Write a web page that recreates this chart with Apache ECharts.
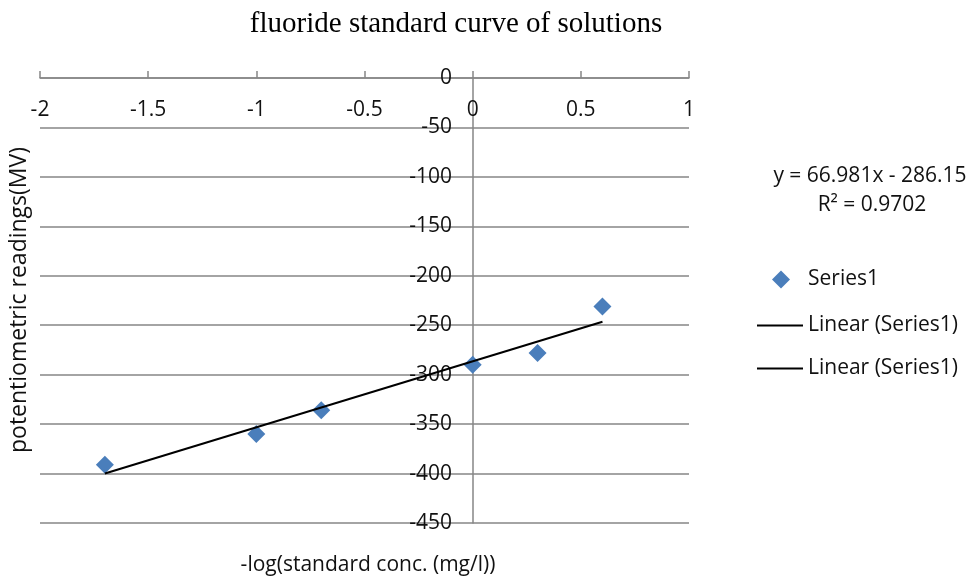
<!DOCTYPE html>
<html>
<head>
<meta charset="utf-8">
<script src="https://cdn.jsdelivr.net/npm/echarts@6/dist/echarts.min.js"></script>
<style>html,body{margin:0;padding:0;background:#fff}#c{width:973px;height:580px}</style>
</head>
<body>
<div id="c"></div>
<script>
// Data
var xValues = [-1.7, -1.0, -0.7, 0.0, 0.3, 0.6];
var yValues = [-391, -360, -336, -290, -278, -231];
// Linear trend line end points (as drawn)
var trendX = [-1.7, 0.6];
var trendY = [-400, -246.5];
var titleText = 'fluoride standard curve of solutions';
var xName = '-log(standard conc. (mg/l))';
var yName = 'potentiometric readings(MV)';
var eqLine1 = 'y = 66.981x - 286.15';
var eqLine2 = 'R\u00B2 = 0.9702';

var pts = xValues.map(function (x, i) { return [x, yValues[i]]; });
var trend = trendX.map(function (x, i) { return [x, trendY[i]]; });

var FONT = '"Open Sans", sans-serif';
var FS = 21;
var GRAY = '#868686';
var chart = echarts.init(document.getElementById('c'));
chart.setOption({
  animation: false,
  backgroundColor: '#fff',
  title: {
    text: titleText, left: 451, top: 5, textAlign: 'center',
    textStyle: { fontFamily: '"Liberation Serif", serif', fontSize: 29, fontWeight: 'normal', color: '#000' }
  },
  grid: { left: 40, right: 284, top: 78, bottom: 57, containLabel: false, outerBoundsMode: 'none' },
  xAxis: {
    type: 'value', position: 'top', min: -2, max: 1, interval: 0.5,
    axisLine: { onZero: false, lineStyle: { color: GRAY, width: 1.5 } },
    axisTick: { show: true, length: 7, lineStyle: { color: GRAY, width: 1.5 } },
    axisLabel: { inside: true, margin: 22, fontFamily: FONT, fontSize: FS, color: '#111' },
    splitLine: { show: false }
  },
  yAxis: {
    type: 'value', min: -450, max: 0, interval: 50, position: 'left', offset: -433,
    axisLine: { show: true, onZero: false, lineStyle: { color: GRAY, width: 1.5 } },
    axisTick: { show: false },
    axisLabel: { margin: 21, fontFamily: FONT, fontSize: FS, color: '#111' },
    splitLine: { show: true, lineStyle: { color: GRAY, width: 1.5 } }
  },
  legend: [
    {
      data: [{ name: 'Series1', icon: 'diamond' }], left: 772, top: 269, padding: 0,
      itemWidth: 18, itemHeight: 18,
      textStyle: { fontFamily: FONT, fontSize: FS, color: '#111', padding: [0, 0, 0, 13] }
    },
    {
      data: [{ name: 'Linear (Series1)', icon: 'rect' }], left: 757, top: 315, padding: 0,
      itemWidth: 46, itemHeight: 2,
      textStyle: { fontFamily: FONT, fontSize: FS, color: '#111' }
    },
    {
      data: [{ name: 'Linear (Series1)', icon: 'rect' }], left: 757, top: 358, padding: 0,
      itemWidth: 46, itemHeight: 2,
      textStyle: { fontFamily: FONT, fontSize: FS, color: '#111' }
    }
  ],
  graphic: [
    { type: 'text', x: 870, y: 176, style: { text: eqLine1, fontFamily: FONT, fontSize: FS, fill: '#111', align: 'center', verticalAlign: 'middle' } },
    { type: 'text', x: 872, y: 205, style: { text: eqLine2, fontFamily: FONT, fontSize: FS, fill: '#111', align: 'center', verticalAlign: 'middle' } },
    { type: 'text', x: 368, y: 565, style: { text: xName, fontFamily: FONT, fontSize: FS, fill: '#111', align: 'center', verticalAlign: 'middle' } },
    { type: 'text', x: 19, y: 300, rotation: Math.PI / 2, style: { text: yName, fontFamily: FONT, fontSize: 23, fill: '#111', align: 'center', verticalAlign: 'middle' } }
  ],
  series: [
    {
      name: 'Series1', type: 'scatter', data: pts, symbol: 'diamond', symbolSize: 18,
      itemStyle: { color: '#4a7ebb', opacity: 1 }, z: 2
    },
    {
      name: 'Linear (Series1)', type: 'line', data: trend, symbol: 'none',
      itemStyle: { color: '#000' },
      lineStyle: { color: '#000', width: 2 }, z: 3
    }
  ]
});
</script>
</body>
</html>
